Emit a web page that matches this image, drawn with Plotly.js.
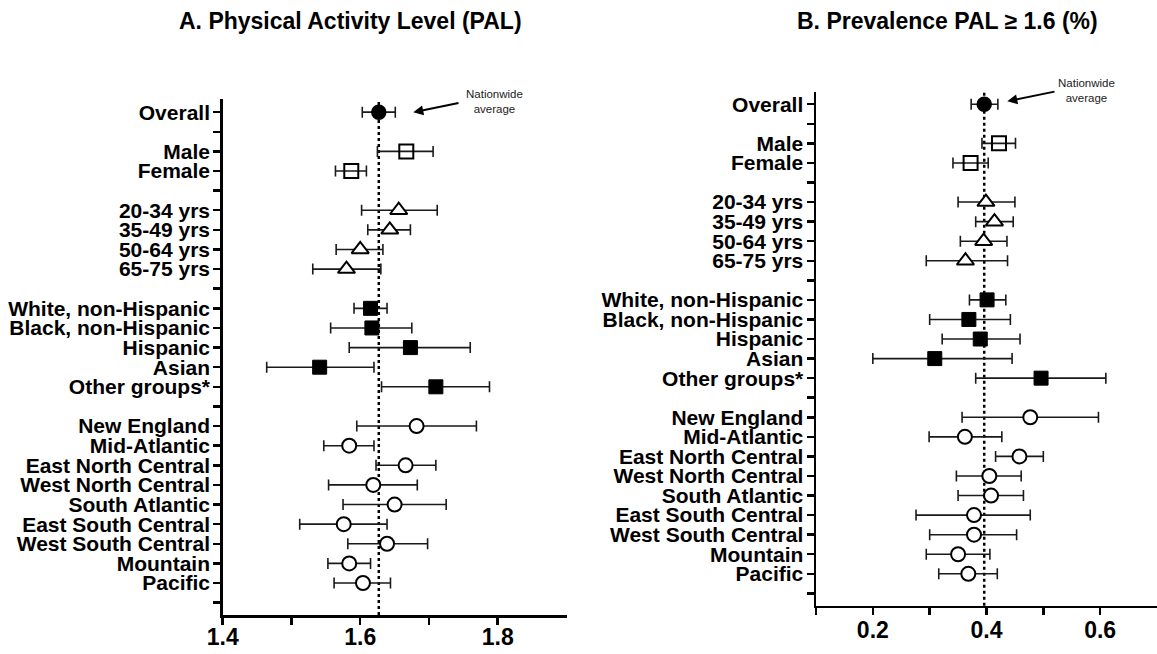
<!DOCTYPE html>
<html>
<head>
<meta charset="utf-8">
<script src="https://cdn.plot.ly/plotly-3.0.1.min.js"></script>
<style>html,body{margin:0;padding:0;background:#fff;}#chart{width:1157px;height:654px;}</style>
</head>
<body>
<div id="chart"></div>
<script>
// ---- Data ----
const rowLabels = ['Overall', '', 'Male', 'Female', '', '20-34 yrs', '35-49 yrs', '50-64 yrs', '65-75 yrs', '',
  'White, non-Hispanic', 'Black, non-Hispanic', 'Hispanic', 'Asian', 'Other groups*', '',
  'New England', 'Mid-Atlantic', 'East North Central', 'West North Central', 'South Atlantic',
  'East South Central', 'West South Central', 'Mountain', 'Pacific', ''];

const overallCats = ['Overall'];
const sexCats = ['Male', 'Female'];
const ageCats = ['20-34 yrs', '35-49 yrs', '50-64 yrs', '65-75 yrs'];
const raceCats = ['White, non-Hispanic', 'Black, non-Hispanic', 'Hispanic', 'Asian', 'Other groups*'];
const regionCats = ['New England', 'Mid-Atlantic', 'East North Central', 'West North Central', 'South Atlantic',
  'East South Central', 'West South Central', 'Mountain', 'Pacific'];

// Panel A: PAL mean, lower CI, upper CI
const palOverall = [1.627], palOverallLo = [1.603], palOverallHi = [1.651];
const palSex = [1.667, 1.587], palSexLo = [1.625, 1.564], palSexHi = [1.706, 1.609];
const palAge = [1.656, 1.643, 1.600, 1.580], palAgeLo = [1.602, 1.611, 1.565, 1.531], palAgeHi = [1.712, 1.673, 1.633, 1.630];
const palRace = [1.615, 1.617, 1.673, 1.541, 1.710], palRaceLo = [1.591, 1.557, 1.584, 1.464, 1.631], palRaceHi = [1.639, 1.675, 1.760, 1.620, 1.788];
const palRegion = [1.682, 1.584, 1.666, 1.619, 1.650, 1.576, 1.639, 1.584, 1.604];
const palRegionLo = [1.595, 1.547, 1.623, 1.554, 1.575, 1.512, 1.582, 1.553, 1.562];
const palRegionHi = [1.769, 1.620, 1.710, 1.683, 1.725, 1.639, 1.698, 1.615, 1.644];
const palNationwide = 1.627;

// Panel B: prevalence PAL >= 1.6
const prevOverall = [0.396], prevOverallLo = [0.373], prevOverallHi = [0.420];
const prevSex = [0.422, 0.372], prevSexLo = [0.392, 0.341], prevSexHi = [0.451, 0.403];
const prevAge = [0.399, 0.414, 0.395, 0.363], prevAgeLo = [0.350, 0.381, 0.354, 0.294], prevAgeHi = [0.450, 0.447, 0.436, 0.437];
const prevRace = [0.401, 0.369, 0.389, 0.309, 0.496], prevRaceLo = [0.370, 0.300, 0.322, 0.200, 0.381], prevRaceHi = [0.434, 0.442, 0.459, 0.445, 0.610];
const prevRegion = [0.477, 0.362, 0.458, 0.405, 0.408, 0.378, 0.378, 0.350, 0.368];
const prevRegionLo = [0.357, 0.299, 0.416, 0.347, 0.350, 0.276, 0.300, 0.294, 0.316];
const prevRegionHi = [0.597, 0.427, 0.500, 0.461, 0.465, 0.477, 0.453, 0.406, 0.419];
const prevNationwide = 0.396;

const palTickVals = [1.4, 1.5, 1.6, 1.7, 1.8];
const palTickText = ['1.4', '', '1.6', '', '1.8'];
const prevTickVals = [0.1, 0.2, 0.3, 0.4, 0.5, 0.6];
const prevTickText = ['', '0.2', '', '0.4', '', '0.6'];

// ---- Build ----
const FONT = 'Liberation Sans, Arial, Helvetica, sans-serif';
const styles = {
  overall: {symbol: 'circle', size: 14, color: '#000', line: {color: '#000', width: 1.5}},
  sex: {symbol: 'square-open', size: 14, color: '#000', line: {color: '#000', width: 2}},
  age: {symbol: 'triangle-up', size: 15, color: '#fff', line: {color: '#000', width: 2}},
  race: {symbol: 'square', size: 14, color: '#000', line: {color: '#000', width: 1}},
  region: {symbol: 'circle', size: 14, color: '#fff', line: {color: '#000', width: 2}}
};

function mk(cats, mean, lo, hi, style, xa, ya) {
  return {
    type: 'scatter', mode: 'markers',
    x: mean,
    y: cats.map(c => rowLabels.indexOf(c)),
    xaxis: xa, yaxis: ya,
    marker: style,
    error_x: {
      type: 'data', symmetric: false,
      array: hi.map((h, i) => h - mean[i]),
      arrayminus: lo.map((l, i) => mean[i] - l),
      color: '#1a1a1a', thickness: 1.6, width: 5.5
    },
    hoverinfo: 'x+y', showlegend: false
  };
}

const traces = [
  mk(overallCats, palOverall, palOverallLo, palOverallHi, styles.overall, 'x', 'y'),
  mk(sexCats, palSex, palSexLo, palSexHi, styles.sex, 'x', 'y'),
  mk(ageCats, palAge, palAgeLo, palAgeHi, styles.age, 'x', 'y'),
  mk(raceCats, palRace, palRaceLo, palRaceHi, styles.race, 'x', 'y'),
  mk(regionCats, palRegion, palRegionLo, palRegionHi, styles.region, 'x', 'y'),
  mk(overallCats, prevOverall, prevOverallLo, prevOverallHi, styles.overall, 'x2', 'y2'),
  mk(sexCats, prevSex, prevSexLo, prevSexHi, styles.sex, 'x2', 'y2'),
  mk(ageCats, prevAge, prevAgeLo, prevAgeHi, styles.age, 'x2', 'y2'),
  mk(raceCats, prevRace, prevRaceLo, prevRaceHi, styles.race, 'x2', 'y2'),
  mk(regionCats, prevRegion, prevRegionLo, prevRegionHi, styles.region, 'x2', 'y2')
];

const rowIdx = rowLabels.map((_, i) => i);

function yax(domain, range, anchor) {
  return {
    domain: domain, range: range, anchor: anchor,
    tickmode: 'array', tickvals: rowIdx, ticktext: rowLabels,
    ticks: 'outside', ticklen: 7, tickwidth: 2.5, tickcolor: '#000',
    showline: true, linewidth: 2.5, linecolor: '#000',
    showgrid: false, zeroline: false, fixedrange: true,
    ticklabelstandoff: -1,
    tickfont: {family: FONT, size: 21, color: '#000', weight: 'bold'}
  };
}
function xax(domain, range, tv, tt, anchor, standoff) {
  return {
    domain: domain, range: range, anchor: anchor,
    tickmode: 'array', tickvals: tv, ticktext: tt,
    ticks: 'outside', ticklen: 7, tickwidth: 2.5, tickcolor: '#000',
    showline: true, linewidth: 2.5, linecolor: '#000',
    showgrid: false, zeroline: false, fixedrange: true,
    ticklabelstandoff: standoff,
    tickfont: {family: FONT, size: 23, color: '#000', weight: 'bold'}
  };
}

const W = 1157, H = 654;
const yA = yax([1 - 615 / H, 1 - 99 / H], [25.63, -0.67], 'x');
const yB = yax([1 - 605.7 / H, 1 - 92.3 / H], [25.63, -0.61], 'x2');
const xA = xax([222.7 / W, 566.5 / W], [1.4, 1.9], palTickVals, palTickText, 'y', -7);
const xB = xax([816 / W, 1.0], [0.1, 0.7], prevTickVals, prevTickText, 'y2', -5);

const layout = {
  width: W, height: H, autosize: false,
  margin: {l: 0, r: 0, t: 0, b: 0, pad: 0},
  paper_bgcolor: '#fff', plot_bgcolor: '#fff',
  font: {family: FONT, color: '#000'},
  xaxis: xA, yaxis: yA, xaxis2: xB, yaxis2: yB,
  shapes: [
    {type: 'line', xref: 'x', yref: 'y domain', x0: palNationwide, x1: palNationwide, y0: 0, y1: 1,
     line: {color: '#000', width: 2.5, dash: 'dot'}, layer: 'below'},
    {type: 'line', xref: 'x2', yref: 'y2 domain', x0: prevNationwide, x1: prevNationwide, y0: 0, y1: 1,
     line: {color: '#000', width: 2.5, dash: 'dot'}, layer: 'below'}
  ],
  annotations: [
    {text: 'A. Physical Activity Level (PAL)', xref: 'paper', yref: 'paper', x: 350 / W, y: 1 - 21 / H,
     xanchor: 'center', yanchor: 'middle', showarrow: false,
     font: {family: FONT, size: 23, color: '#000', weight: 'bold'}},
    {text: 'B. Prevalence PAL \u2265 1.6 (%)', xref: 'paper', yref: 'paper', x: 947 / W, y: 1 - 21 / H,
     xanchor: 'center', yanchor: 'middle', showarrow: false,
     font: {family: FONT, size: 23, color: '#000', weight: 'bold'}},
    {text: 'Nationwide<br>average', xref: 'paper', yref: 'paper', x: 494.5 / W, y: 1 - 102 / H,
     xanchor: 'center', yanchor: 'middle', showarrow: false,
     font: {family: FONT, size: 11.5, color: '#222'}},
    {text: 'Nationwide<br>average', xref: 'paper', yref: 'paper', x: 1086.8 / W, y: 1 - 90.4 / H,
     xanchor: 'center', yanchor: 'middle', showarrow: false,
     font: {family: FONT, size: 11.5, color: '#222'}},
    {text: '', xref: 'paper', yref: 'paper', x: 413.3 / W, y: 1 - 112.3 / H,
     showarrow: true, ax: 46.7, ay: -9.6, arrowhead: 2, arrowsize: 1, arrowwidth: 2, arrowcolor: '#000'},
    {text: '', xref: 'paper', yref: 'paper', x: 1007.3 / W, y: 1 - 101.3 / H,
     showarrow: true, ax: 48.7, ay: -10, arrowhead: 2, arrowsize: 1, arrowwidth: 2, arrowcolor: '#000'}
  ]
};

Plotly.newPlot('chart', traces, layout, {staticPlot: true, displayModeBar: false});
</script>
</body>
</html>
